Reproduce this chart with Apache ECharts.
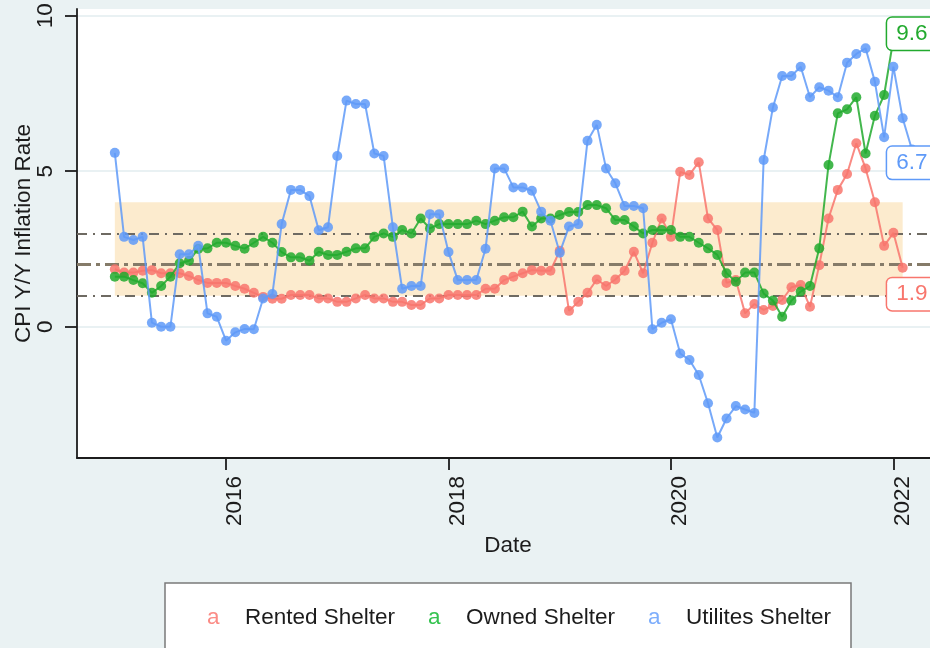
<!DOCTYPE html>
<html>
<head>
<meta charset="utf-8">
<title>CPI Y/Y Inflation Rate</title>
<script src="https://cdn.jsdelivr.net/npm/echarts@6/dist/echarts.min.js"></script>
<style>
  html, body { margin: 0; padding: 0; background: #eaf2f3; }
  #chart { width: 930px; height: 648px; }
</style>
</head>
<body>
<div id="chart"></div>
<script>
// monthly data, first value is 2015m1
const startYear = 2015;

const rented = [
  1.85, 1.74, 1.74, 1.8, 1.82, 1.72, 1.72, 1.72, 1.63, 1.5, 1.41, 1.41,
  1.41, 1.31, 1.22, 1.09, 0.96, 0.9, 0.9, 1.02, 1.02, 1.02, 0.91, 0.91,
  0.8, 0.8, 0.91, 1.02, 0.91, 0.91, 0.8, 0.8, 0.7, 0.7, 0.91, 0.91,
  1.02, 1.02, 1.02, 1.02, 1.22, 1.22, 1.5, 1.61, 1.72, 1.82, 1.8, 1.8,
  2.44, 0.51, 0.8, 1.09, 1.52, 1.31, 1.52, 1.8, 2.41, 1.72, 2.7, 3.48,
  2.89, 4.98, 4.88, 5.29, 3.48, 3.11, 1.41, 1.5, 0.43, 0.73, 0.54, 0.67,
  0.86, 1.27, 1.34, 0.64, 1.98, 3.48, 4.4, 4.91, 5.9, 5.09, 4.0, 2.6,
  3.02, 1.9
];

const owned = [
  1.61, 1.61, 1.5, 1.4, 1.09, 1.31, 1.61, 2.04, 2.12, 2.5, 2.52, 2.7,
  2.7, 2.6, 2.51, 2.7, 2.89, 2.7, 2.4, 2.23, 2.23, 2.12, 2.41, 2.31,
  2.31, 2.41, 2.52, 2.52, 2.89, 3.0, 2.89, 3.11, 3.0, 3.48, 3.16, 3.3,
  3.3, 3.3, 3.3, 3.41, 3.3, 3.41, 3.52, 3.52, 3.7, 3.22, 3.48, 3.48,
  3.59, 3.69, 3.69, 3.91, 3.91, 3.81, 3.43, 3.43, 3.22, 3.0, 3.11, 3.11,
  3.11, 2.89, 2.89, 2.7, 2.52, 2.31, 1.72, 1.45, 1.74, 1.74, 1.07, 0.84,
  0.32, 0.84, 1.13, 1.31, 2.52, 5.2, 6.86, 6.99, 7.38, 5.57, 6.78, 7.45,
  9.25, 9.6
];

const utilities = [
  5.59, 2.89, 2.79, 2.89, 0.13, 0.0, 0.0, 2.33, 2.33, 2.6, 0.43, 0.32,
  -0.45, -0.18, -0.07, -0.08, 0.91, 1.05, 3.3, 4.4, 4.4, 4.2, 3.1, 3.2,
  5.49, 7.27, 7.16, 7.16, 5.57, 5.49, 3.2, 1.22, 1.31, 1.31, 3.62, 3.62,
  2.4, 1.5, 1.5, 1.5, 2.51, 5.09, 5.09, 4.48, 4.48, 4.37, 3.7, 3.41,
  2.38, 3.22, 3.3, 5.98, 6.49, 5.09, 4.61, 3.88, 3.88, 3.81, -0.08, 0.13,
  0.24, -0.86, -1.07, -1.55, -2.46, -3.56, -2.95, -2.55, -2.66, -2.77, 5.36, 7.05,
  8.06, 8.06, 8.36, 7.38, 7.7, 7.59, 7.38, 8.49, 8.77, 8.95, 7.88, 6.09,
  8.36, 6.7, 5.7
];

const seriesNames = ['Rented Shelter', 'Owned Shelter', 'Utilites Shelter'];
const xTicks = [2016, 2018, 2020, 2022];
const yTicks = [0, 5, 10];
const targetBand = [1, 4];
const refLines = [3, 2, 1];

const colors = ['#f8766d', '#22aa2e', '#5f9af8'];
const legendColors = ['#fb8c86', '#35c350', '#7eaefc'];
const labelOffsets = [[-15, 27], [-15, 6], [-15, 45]];
const labelIndex = rented.length - 1; // 2022m2
const fontFamily = '"Liberation Sans", Arial, sans-serif';
const ink = '#1c1c1c';

function toPoints(values) {
  return values.map((v, i) => [startYear + i / 12, v]);
}

const chart = echarts.init(document.getElementById('chart'));

const lastLabel = (k, values) => ({
  silent: true,
  symbol: 'rect',
  symbolSize: 1,
  itemStyle: { color: 'rgba(0,0,0,0)' },
  data: [{ coord: [startYear + labelIndex / 12, values[labelIndex]], value: values[labelIndex] }],
  label: {
    show: true,
    position: labelOffsets[k],
    align: 'left',
    verticalAlign: 'middle',
    formatter: p => Number(p.value).toFixed(1),
    fontFamily: fontFamily,
    fontSize: 22.5,
    lineHeight: 26,
    color: colors[k],
    backgroundColor: '#ffffff',
    borderColor: colors[k],
    borderWidth: 1.5,
    borderRadius: 5,
    padding: [3, 20, 3, 9]
  }
});

const makeSeries = (k, values) => ({
  name: seriesNames[k],
  type: 'line',
  data: toPoints(values),
  symbol: 'circle',
  symbolSize: 10,
  showAllSymbol: true,
  z: 2 + k,
  lineStyle: { width: 2, color: colors[k], opacity: 0.85 },
  itemStyle: { color: colors[k], opacity: 0.85 },
  emphasis: { disabled: true },
  markPoint: lastLabel(k, values)
});

const series = [
  makeSeries(0, rented),
  makeSeries(1, owned),
  makeSeries(2, utilities)
];

// target band and reference lines sit on the first series, under the lines
series[0].markArea = {
  silent: true,
  z: 1,
  itemStyle: { color: '#fcebce', opacity: 1 },
  data: [[
    { xAxis: startYear, yAxis: targetBand[0] },
    { xAxis: startYear + labelIndex / 12, yAxis: targetBand[1] }
  ]]
};
series[0].markLine = {
  silent: true,
  z: 1.5,
  symbol: ['none', 'none'],
  label: { show: false },
  data: refLines.map(v => ({
    yAxis: v,
    lineStyle: {
      color: v === 2 ? '#857b69' : '#6e6a62',
      width: v === 2 ? 3 : 2,
      type: v === 2 ? [14, 5, 4, 5] : [10, 6, 2, 6],
      opacity: 1
    }
  }))
};

const rich = {};
seriesNames.forEach((n, k) => {
  rich['k' + k] = { color: legendColors[k], width: 38, fontSize: 22.5, fontFamily: fontFamily };
});

const option = {
  animation: false,
  backgroundColor: '#eaf2f3',
  textStyle: { fontFamily: fontFamily },
  grid: {
    left: 77, top: 9, right: -9, bottom: 190,
    show: true, backgroundColor: '#ffffff', borderWidth: 0,
    outerBoundsMode: 'none'
  },
  xAxis: {
    type: 'value',
    min: 2014.66,
    max: 2022.41,
    name: 'Date',
    nameLocation: 'middle',
    nameGap: 73,
    nameTextStyle: { fontSize: 22.5, color: ink, fontFamily: fontFamily },
    axisLine: { show: true, onZero: false, lineStyle: { color: ink, width: 1.8 } },
    axisTick: { show: true, length: 12, customValues: xTicks, lineStyle: { color: ink, width: 1.8 } },
    axisLabel: {
      customValues: xTicks,
      rotate: 90,
      margin: 18,
      verticalAlign: 'top',
      lineHeight: 18,
      fontSize: 22.5,
      color: ink,
      fontFamily: fontFamily,
      formatter: v => String(v)
    },
    splitLine: { show: false }
  },
  yAxis: {
    type: 'value',
    min: -4.22,
    max: 10.215,
    name: 'CPI Y/Y Inflation Rate',
    nameLocation: 'middle',
    nameGap: 42,
    nameMoveOverlap: false,
    nameTextStyle: { fontSize: 22.5, color: ink, fontFamily: fontFamily },
    axisLine: { show: true, onZero: false, lineStyle: { color: ink, width: 1.8 } },
    axisTick: { show: true, length: 12, customValues: yTicks, lineStyle: { color: ink, width: 1.8 } },
    axisLabel: {
      customValues: yTicks,
      rotate: 90,
      margin: 20,
      fontSize: 22.5,
      color: ink,
      fontFamily: fontFamily,
      formatter: v => String(v)
    },
    splitLine: { show: true, lineStyle: { color: '#e2ecef', width: 1.5 } }
  },
  legend: {
    data: seriesNames,
    left: 202,
    top: 606,
    padding: 0,
    itemGap: 28,
    icon: 'none',
    itemWidth: 0,
    itemHeight: 0,
    selectedMode: false,
    formatter: name => '{k' + seriesNames.indexOf(name) + '|a}' + name,
    textStyle: { fontSize: 22.5, color: ink, fontFamily: fontFamily, rich: rich }
  },
  graphic: [{
    type: 'rect',
    z: 0,
    silent: true,
    shape: { x: 165, y: 583, width: 686, height: 100 },
    style: { fill: '#ffffff', stroke: '#7a7a7a', lineWidth: 1.5 }
  }],
  series: series
};

chart.setOption(option);
</script>
</body>
</html>
